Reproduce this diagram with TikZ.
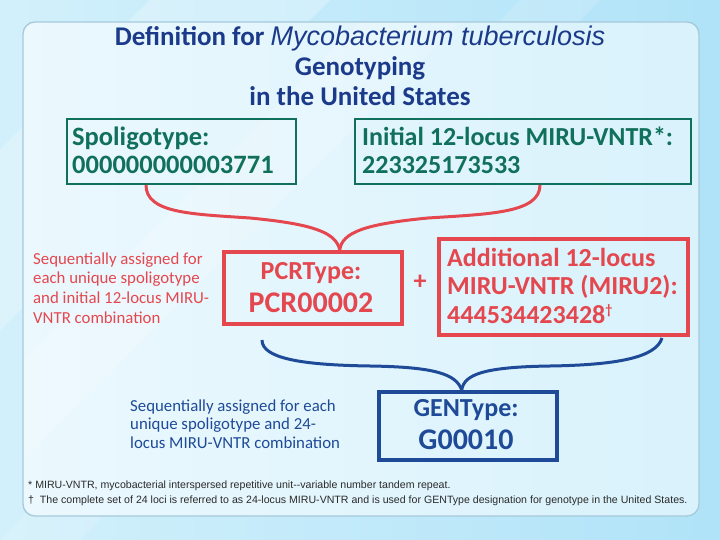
\documentclass[tikz,border=0pt]{standalone}
\usepackage{fontspec}
\setmainfont{Carlito}
\newfontfamily\arialf{Liberation Sans}
\definecolor{bgA}{HTML}{D2F0FB}
\definecolor{bgB}{HTML}{B0E3F8}
\definecolor{panelA}{HTML}{EBF8FE}
\definecolor{panelB}{HTML}{D9F2FC}
\definecolor{panelEdge}{HTML}{A6C9DB}
\definecolor{navy}{HTML}{1B3A8A}
\definecolor{tealc}{HTML}{11705B}
\definecolor{myred}{HTML}{E4474E}
\definecolor{genblue}{HTML}{1E4A98}
\definecolor{foot}{HTML}{2A2A2A}
\newcommand{\fs}[2]{\fontsize{#1}{#2}\selectfont}
\begin{document}
\begin{tikzpicture}[x=1pt,y=-1pt,
  tealbox/.style={draw=tealc, line width=2pt, anchor=north west, inner sep=0pt},
  redbox/.style={draw=myred, line width=3.5pt, anchor=north west, inner sep=0pt},
  bluebox/.style={draw=genblue, line width=3.5pt, anchor=north west, inner sep=0pt},
  boxtext/.style={anchor=west, align=left, inner sep=0pt, font=\bfseries\fs{26}{28}},
  lineinbox/.style={inner sep=0pt, font=\bfseries},
  redline/.style={draw=myred, line width=3pt},
  blueline/.style={draw=genblue, line width=3pt},
  note/.style={anchor=west, align=left, inner sep=0pt, font=\fs{16.8}{19.7}},
  foottext/.style={anchor=west, inner sep=0pt, text=foot, font=\arialf\fs{10.6}{12}}]
\useasboundingbox (0,0) rectangle (720,540);
% background
\shade[left color=bgA, right color=bgB] (0,0) rectangle (720,540);
\fill[white, opacity=0.25] (150,0) -- (330,0) -- (0,330) -- (0,150) -- cycle;
\fill[white, opacity=0.15] (520,0) -- (600,0) -- (80,540) -- (0,540) -- cycle;
% panel
\shade[rounded corners=12pt, left color=panelA, right color=panelB] (23,22) rectangle (699,516);
\fill[white, opacity=0.18] (23,360) -- (360,22) -- (460,22) -- (23,460) -- cycle;
\draw[panelEdge, line width=1.3pt, rounded corners=12pt] (23,22) rectangle (699,516);
% title
\node[text=navy, align=center, font=\bfseries\fs{27}{30}] (title) at (360,66)
  {Definition for {\arialf\mdseries\itshape\fs{27}{30}Mycobacterium tuberculosis}\\Genotyping\\in the United States};
% top boxes
\node[tealbox, minimum width=229pt, minimum height=65pt] (spol) at (66,118) {};
\node[boxtext, text=tealc, font=\bfseries\fs{26.5}{28}] (spolt) at ([xshift=6pt,yshift=1pt]spol.west) {Spoligotype:\\000000000003771};
\node[tealbox, minimum width=336pt, minimum height=65pt] (miru) at (354,118) {};
\node[boxtext, text=tealc] (mirut) at ([xshift=8pt,yshift=1pt]miru.west) {Initial 12-locus MIRU-VNTR*:\\223325173533};
% PCR box
\node[redbox, minimum width=178pt, minimum height=72pt] (pcr) at (222,250) {};
\node[lineinbox, text=myred, font=\bfseries\fs{26}{26}] (pcrt1) at (311,273) {PCRType:};
\node[lineinbox, text=myred, font=\bfseries\fs{30}{30}] (pcrt2) at (311,303) {PCR00002};
\node[text=myred, font=\bfseries\fs{26}{28}] (plus) at (420,282) {+};
\node[redbox, minimum width=249pt, minimum height=96pt] (add) at (437,237) {};
\node[boxtext, text=myred, font=\bfseries\fs{26}{28.5}] (addt) at ([xshift=10pt,yshift=1pt]add.west)
  {Additional 12-locus\\MIRU-VNTR (MIRU2):\\444534423428\textsuperscript{\fs{14}{14}†}};
% GEN box
\node[bluebox, minimum width=178pt, minimum height=68pt] (gen) at (377,390) {};
\node[lineinbox, text=genblue, font=\bfseries\fs{26}{26}] (gent1) at (466,410) {GENType:};
\node[lineinbox, text=genblue, font=\bfseries\fs{30}{30}] (gent2) at (466,440) {G00010};
% notes
\node[note, text=myred] (rednote) at (33,288)
  {Sequentially assigned for\\each unique spoligotype\\and initial 12-locus MIRU-\\VNTR combination};
\node[note, text=genblue, font=\fs{16.8}{18.5}] (bluenote) at (130,424)
  {Sequentially assigned for each\\unique spoligotype and 24-\\locus MIRU-VNTR combination};
% red brace
\coordinate (rtip) at ([xshift=27pt]pcr.north);
\draw[redline] ([xshift=80pt]spol.south west) .. controls +(0,28) and (190,214) .. (250,218)
  .. controls (312,224) and (336,232) .. (rtip);
\draw[redline] ([xshift=186pt]miru.south west) .. controls +(0,28) and (490,214) .. (428,218)
  .. controls (366,224) and (342,232) .. (rtip);
% blue brace
\coordinate (bl) at (262,340);
\coordinate (br) at (662,338);
\coordinate (btip) at ([xshift=-6pt]gen.north);
\draw[blueline] (bl) .. controls (262,358) and (300,365) .. (370,366)
  .. controls (435,367) and (456,374) .. (btip);
\draw[blueline] (br) .. controls (656,358) and (615,365) .. (550,366)
  .. controls (485,367) and (464,374) .. (btip);
% footnotes
\node[foottext] (f1) at (28,486) {* MIRU-VNTR, mycobacterial interspersed repetitive unit--variable number tandem repeat.};
\node[foottext] (f2) at (28,501) {† \ The complete set of 24 loci is referred to as 24-locus MIRU-VNTR and is used for GENType designation for genotype in the United States.};
\end{tikzpicture}
\end{document}
